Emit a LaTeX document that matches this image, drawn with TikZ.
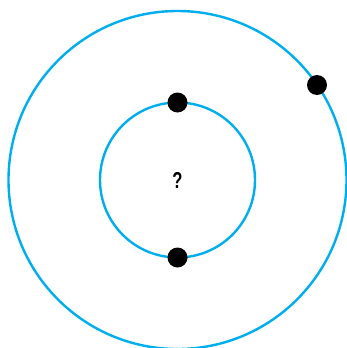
\documentclass[tikz,border=0pt]{standalone}
\usepackage{fontspec}
\setsansfont{Liberation Sans}
\usepackage{tikz}
\usetikzlibrary{positioning,calc}
\definecolor{orbitblue}{HTML}{00AEEF}
\tikzset{
  orbit/.style={draw=orbitblue, line width=2.4pt},
  body/.style={circle, fill=black, inner sep=0pt, minimum size=20pt}
}

\begin{document}
\begin{tikzpicture}[x=1pt, y=-1pt]
\useasboundingbox (0,0) rectangle (347,348);
\clip (0,0) rectangle (347,348);

% Centre
\coordinate (C) at (177.5,180);
\node[font=\sffamily\bfseries\fontsize{23}{23}\selectfont, xscale=0.72] (Q) at (C) {?};

% Orbits
\draw[orbit] (C) circle (77.5);
\draw[orbit] (C) circle (169);

% Bodies
\node[body] (top)    at ($(C)+(0,-77.5)$) {};
\node[body] (bottom) at ($(C)+(0,77.5)$) {};
\node[body] (outer)  at (317,85) {};

\end{tikzpicture}
\end{document}
